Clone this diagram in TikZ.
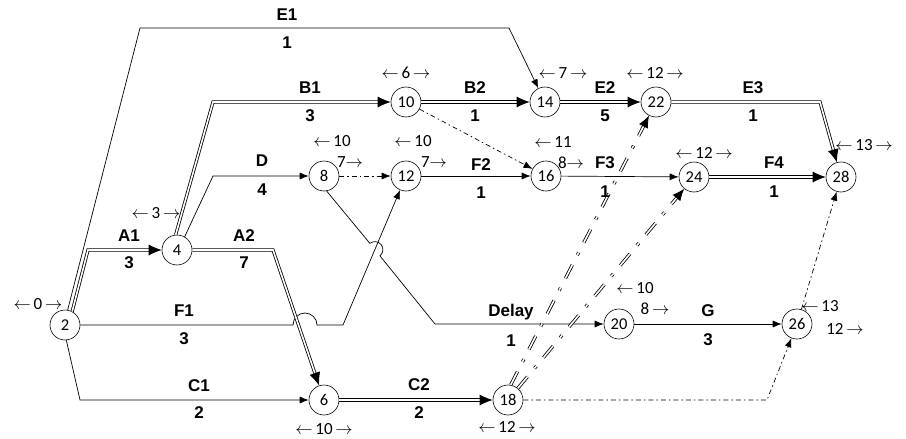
\documentclass[tikz,border=0pt]{standalone}
\usepackage{fontspec}
\setmainfont{Carlito}
\newfontfamily\actfamily{Liberation Sans}
\usetikzlibrary{arrows.meta,calc}
\begin{document}
\begin{tikzpicture}[x=1pt,y=-1pt,
  ev/.style={circle, draw, line width=0.6pt, minimum size=30pt, inner sep=0pt,
             font=\fontsize{16.5}{18}\selectfont},
  act/.style={font=\actfamily\bfseries\fontsize{17}{19}\selectfont, inner sep=0pt},
  tm/.style={font=\fontsize{17}{19}\selectfont, inner sep=0pt},
  sgl/.style={draw, line width=0.7pt, -{Latex[length=9pt,width=7pt]}},
  crit/.style={draw, double, line width=0.8pt, double distance=1.6pt, shorten >=10pt},
  ctip/.style={draw, line width=0.8pt, -{Latex[length=13pt,width=11pt]}},
  dmy/.style={draw, line width=0.7pt, dash pattern=on 5pt off 3pt on 1.5pt off 3pt,
              -{Latex[length=9pt,width=7pt]}},
  ddmy/.style={draw, double, line width=0.8pt, double distance=1.6pt, shorten >=9pt,
               dash pattern=on 15pt off 11pt on 3pt off 11pt},
  dtip/.style={draw, line width=0.8pt, -{Latex[length=12pt,width=10pt]}},
]
\useasboundingbox (0,0) rectangle (906,439);
\fill[white] (0,0) rectangle (906,439);

% events
\node[ev] (n2)  at (65,325)  {2};
\node[ev] (n4)  at (177,250) {4};
\node[ev] (n6)  at (324,400) {6};
\node[ev] (n8)  at (324,176) {8};
\node[ev] (n10) at (406,102) {10};
\node[ev] (n12) at (406,176) {12};
\node[ev] (n14) at (545,102) {14};
\node[ev] (n16) at (546,176) {16};
\node[ev] (n18) at (508,400) {18};
\node[ev] (n20) at (619,324) {20};
\node[ev] (n22) at (656,102) {22};
\node[ev] (n24) at (694,177) {24};
\node[ev] (n26) at (797,324) {26};
\node[ev] (n28) at (841,177) {28};

% bend points
\coordinate (e1a) at (140,28);
\coordinate (e1b) at (509,28);
\coordinate (a1c) at (88,250);
\coordinate (c1c) at (80,400);
\coordinate (f1a) at (293,325);
\coordinate (f1b) at (343,325);
\coordinate (a2c) at (273,250);
\coordinate (b1c) at (213,102);
\coordinate (dc)  at (213,176);
\coordinate (dla) at (369.9,243.4);
\coordinate (dlb) at (435,324);
\coordinate (e3c) at (820,102);
\coordinate (gc)  at (767,400);

% ordinary activities
\path[sgl] (n2.80) -- (e1a) -- (e1b) -- (n14);
\path[sgl] (n2.-85) -- (c1c) -- (n6);
\path[sgl] (n2.east) -- (f1a) arc[start angle=180, end angle=360, radius=12] -- (f1b) -- (n12);
\path[sgl] (n4.60) -- (dc) -- (n8);
\path[sgl] (n8.-80) -- (dla) arc[start angle=231.1, end angle=411.1, radius=8] -- (dlb) -- (n20);
\path[sgl] (n12) -- (n16);
\path[sgl] (n16) -- (n24);
\path[sgl] (n20) -- (n26);

% dummies
\path[dmy] (n8) -- (n12);
\path[dmy] (n10) -- (n16);
\path[dmy] (n18.east) -- (gc) -- (n26);
\path[dmy] (n26) -- (n28);
\path[ddmy] (n18.80) -- (n22);
\path[ddmy] (n18.50) -- (n24);
\path[dtip] ($(n22)!27pt!(n18.80)$) -- (n22);
\path[dtip] ($(n24)!27pt!(n18.50)$) -- (n24);

% critical activities
\path[crit] (n2.62) -- (a1c) -- (n4);
\path[crit] (n4.east) -- (a2c) -- (n6);
\path[crit] (n4.95) -- (b1c) -- (n10);
\path[crit] (n10) -- (n14);
\path[crit] (n14) -- (n22);
\path[crit] (n22.east) -- (e3c) -- (n28);
\path[crit] (n24) -- (n28);
\path[crit] (n6) -- (n18);
\path[ctip] ($(n4)!28pt!(a1c)$) -- (n4);
\path[ctip] ($(n6)!28pt!(a2c)$) -- (n6);
\path[ctip] ($(n10)!28pt!(b1c)$) -- (n10);
\path[ctip] ($(n14)!28pt!(n10)$) -- (n14);
\path[ctip] ($(n22)!28pt!(n14)$) -- (n22);
\path[ctip] ($(n28)!28pt!(e3c)$) -- (n28);
\path[ctip] ($(n28)!28pt!(n24)$) -- (n28);
\path[ctip] ($(n18)!28pt!(n6)$) -- (n18);

% activity names and durations
\node[act] (l1)  at (287,15)  {E1};  \node[act] (d1)  at (287,43)  {1};
\node[act] (l2)  at (129,236) {A1};  \node[act] (d2)  at (129,263) {3};
\node[act] (l3)  at (310,88)  {B1};  \node[act] (d3)  at (310,116) {3};
\node[act] (l4)  at (262,161) {D};   \node[act] (d4)  at (262,190) {4};
\node[act] (l5)  at (244,236) {A2};  \node[act] (d5)  at (244,263) {7};
\node[act] (l6)  at (184,311) {F1};  \node[act] (d6)  at (184,339) {3};
\node[act] (l7)  at (199,386) {C1};  \node[act] (d7)  at (199,413) {2};
\node[act] (l8)  at (475,88)  {B2};  \node[act] (d8)  at (475,116) {1};
\node[act] (l9)  at (605,88)  {E2};  \node[act] (d9)  at (605,116) {5};
\node[act] (l10) at (753,88)  {E3};  \node[act] (d10) at (753,116) {1};
\node[act] (l11) at (481,165) {F2};  \node[act] (d11) at (481,193) {1};
\node[act] (l12) at (605,163) {F3};  \node[act] (d12) at (605,192) {1};
\node[act] (l13) at (774,163) {F4};  \node[act] (d13) at (774,192) {1};
\node[act] (l14) at (419,385) {C2};  \node[act] (d14) at (419,413) {2};
\node[act] (l15) at (511,312) {Delay}; \node[act] (d15) at (511,341) {1};
\node[act] (l16) at (708,311) {G};   \node[act] (d16) at (708,340) {3};

% event times
\node[tm] (t1)  at (38,304)  {$\leftarrow$\,0\,$\rightarrow$};
\node[tm] (t2)  at (156,213) {$\leftarrow$\,3\,$\rightarrow$};
\node[tm] (t3)  at (406,73)  {$\leftarrow$\,6\,$\rightarrow$};
\node[tm] (t4)  at (563,73)  {$\leftarrow$\,7\,$\rightarrow$};
\node[tm] (t5)  at (655,73)  {$\leftarrow$\,12\,$\rightarrow$};
\node[tm] (t6)  at (332,141) {$\leftarrow$\,10};
\node[tm] (t7)  at (350,162) {7$\rightarrow$};
\node[tm] (t8)  at (413,141) {$\leftarrow$\,10};
\node[tm] (t9)  at (434,162) {7$\rightarrow$};
\node[tm] (t10) at (553,142) {$\leftarrow$\,11};
\node[tm] (t11) at (571,163) {8$\rightarrow$};
\node[tm] (t12) at (704,153) {$\leftarrow$\,12\,$\rightarrow$};
\node[tm] (t13) at (864,145) {$\leftarrow$\,13\,$\rightarrow$};
\node[tm] (t14) at (635,288) {$\leftarrow$\,10};
\node[tm] (t15) at (655,309) {8\,$\rightarrow$};
\node[tm] (t16) at (820,306) {$\leftarrow$\,13};
\node[tm] (t17) at (845,329) {12\,$\rightarrow$};
\node[tm] (t18) at (324,429) {$\leftarrow$\,10\,$\rightarrow$};
\node[tm] (t19) at (507,427) {$\leftarrow$\,12\,$\rightarrow$};
\end{tikzpicture}
\end{document}
